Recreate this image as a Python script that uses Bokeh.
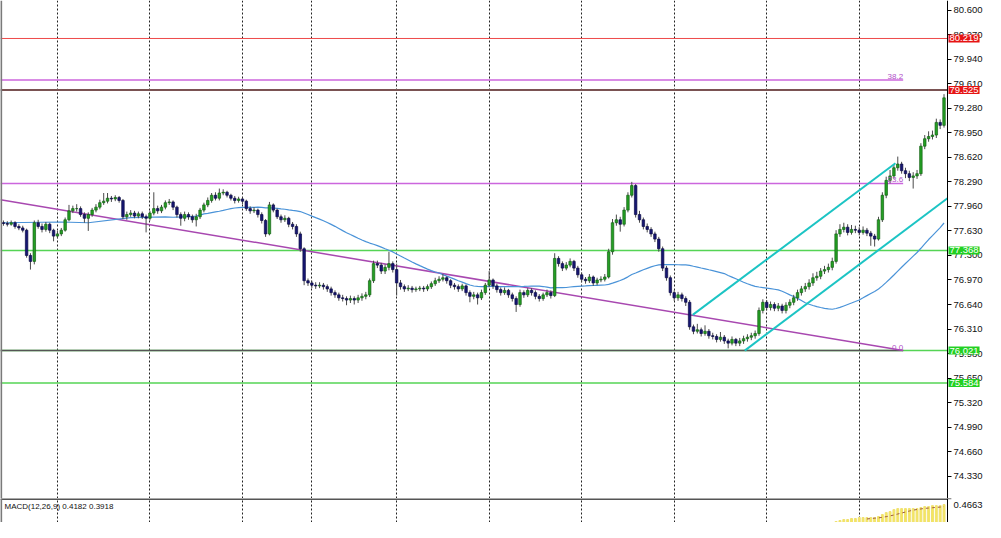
import pandas as pd
from bokeh.plotting import figure
from bokeh.layouts import column
from bokeh.models import Range1d, FixedTicker, NumeralTickFormatter, Span, Label, ColumnDataSource
from bokeh.embed import file_html
from bokeh.resources import INLINE

FONT = "Liberation Sans"

# ---------------- data (H1 candles, price) ----------------
first_open = 77.74
closes = [
    77.73, 77.72, 77.74, 77.69, 77.67, 77.64, 77.30, 77.22, 77.74, 77.69,
    77.65, 77.72, 77.64, 77.56, 77.59, 77.64, 77.78, 77.90, 77.93, 77.93,
    77.85, 77.80, 77.85, 77.91, 77.95, 78.01, 78.03, 78.07, 78.06, 78.08,
    78.04, 77.82, 77.85, 77.87, 77.83, 77.86, 77.82, 77.80, 77.87, 77.93,
    77.90, 77.95, 78.01, 78.02, 77.95, 77.85, 77.80, 77.85, 77.82, 77.78,
    77.82, 77.91, 77.98, 78.04, 78.11, 78.07, 78.14, 78.15, 78.11, 78.07,
    78.04, 78.06, 78.03, 77.93, 77.90, 77.91, 77.85, 77.77, 77.59, 77.98,
    77.91, 77.82, 77.78, 77.80, 77.72, 77.69, 77.59, 77.39, 76.96, 76.93,
    76.90, 76.89, 76.90, 76.88, 76.85, 76.80, 76.77, 76.73, 76.72, 76.70,
    76.72, 76.70, 76.73, 76.75, 76.77, 76.96, 77.19, 77.17, 77.09, 77.14,
    77.19, 77.11, 76.93, 76.88, 76.85, 76.86, 76.84, 76.85, 76.86, 76.85,
    76.88, 76.92, 76.96, 76.98, 77.00, 76.96, 76.90, 76.88, 76.85, 76.89,
    76.80, 76.75, 76.77, 76.73, 76.80, 76.90, 76.97, 76.89, 76.84, 76.80,
    76.83, 76.77, 76.72, 76.64, 76.80, 76.77, 76.83, 76.80, 76.75, 76.72,
    76.77, 76.80, 76.76, 77.26, 77.19, 77.13, 77.17, 77.22, 77.13, 77.04,
    76.98, 76.96, 77.01, 76.93, 76.97, 76.98, 77.01, 77.35, 77.74, 77.78,
    77.72, 77.91, 78.11, 78.24, 77.85, 77.78, 77.69, 77.65, 77.59, 77.52,
    77.39, 77.13, 77.00, 76.80, 76.73, 76.77, 76.72, 76.67, 76.34, 76.28,
    76.30, 76.25, 76.28, 76.22, 76.21, 76.17, 76.20, 76.15, 76.12, 76.17,
    76.12, 76.15, 76.18, 76.20, 76.22, 76.25, 76.56, 76.67, 76.60, 76.64,
    76.59, 76.62, 76.56, 76.63, 76.67, 76.73, 76.80, 76.85, 76.88, 76.93,
    77.00, 77.02, 77.09, 77.11, 77.14, 77.22, 77.59, 77.65, 77.68, 77.61,
    77.65, 77.64, 77.61, 77.64, 77.60, 77.56, 77.52, 77.78, 78.11, 78.31,
    78.37, 78.48, 78.53, 78.44, 78.40, 78.35, 78.37, 78.40, 78.77, 78.87,
    78.90, 78.92, 79.09, 79.05, 79.42,
]
highs = [
    77.77, 77.76, 77.77, 77.76, 77.72, 77.70, 77.66, 77.33, 77.77, 77.78,
    77.73, 77.75, 77.74, 77.66, 77.63, 77.67, 77.81, 77.98, 77.97, 77.99,
    77.96, 77.88, 77.88, 77.94, 77.99, 78.05, 78.14, 78.14, 78.10, 78.11,
    78.10, 78.06, 77.89, 77.91, 77.90, 77.89, 77.89, 77.85, 77.90, 78.15,
    77.97, 77.98, 78.04, 78.06, 78.04, 77.97, 77.88, 77.89, 77.88, 77.85,
    77.86, 77.94, 78.01, 78.08, 78.14, 78.15, 78.20, 78.19, 78.17, 78.13,
    78.10, 78.09, 78.08, 78.05, 77.96, 77.95, 77.93, 77.88, 77.79, 78.02,
    78.00, 77.93, 77.85, 77.84, 77.82, 77.75, 77.72, 77.62, 77.41, 76.99,
    76.96, 76.94, 76.94, 76.93, 76.91, 76.88, 76.83, 76.80, 76.77, 76.75,
    76.76, 76.75, 76.77, 76.79, 76.81, 76.99, 77.23, 77.23, 77.20, 77.18,
    77.35, 77.22, 77.19, 76.97, 76.91, 76.90, 76.89, 76.88, 76.89, 76.89,
    76.91, 76.95, 77.00, 77.02, 77.05, 77.02, 76.98, 76.93, 76.91, 76.92,
    76.91, 76.83, 76.81, 76.80, 76.84, 76.93, 77.09, 76.99, 76.92, 76.87,
    76.87, 76.85, 76.80, 76.75, 76.84, 76.83, 76.86, 76.86, 76.83, 76.78,
    76.80, 76.84, 76.83, 77.33, 77.29, 77.22, 77.21, 77.26, 77.24, 77.16,
    77.07, 77.01, 77.05, 77.03, 77.00, 77.02, 77.05, 77.39, 77.79, 77.85,
    77.82, 77.95, 78.15, 78.29, 78.26, 77.90, 77.81, 77.73, 77.68, 77.62,
    77.55, 77.42, 77.16, 77.03, 76.83, 76.81, 76.80, 76.75, 76.70, 76.37,
    76.38, 76.33, 76.36, 76.31, 76.26, 76.24, 76.27, 76.23, 76.18, 76.21,
    76.19, 76.19, 76.22, 76.24, 76.26, 76.29, 76.60, 76.71, 76.70, 76.68,
    76.67, 76.66, 76.65, 76.67, 76.71, 76.77, 76.84, 76.89, 76.93, 76.98,
    77.06, 77.08, 77.13, 77.16, 77.19, 77.27, 77.64, 77.72, 77.74, 77.72,
    77.71, 77.70, 77.68, 77.69, 77.67, 77.63, 77.59, 77.82, 78.15, 78.36,
    78.45, 78.53, 78.63, 78.56, 78.48, 78.44, 78.42, 78.45, 78.81, 78.92,
    78.97, 78.98, 79.14, 79.13, 79.47,
]
lows = [
    77.70, 77.69, 77.70, 77.66, 77.64, 77.61, 77.27, 77.11, 77.18, 77.66,
    77.61, 77.62, 77.60, 77.49, 77.53, 77.56, 77.62, 77.76, 77.87, 77.89,
    77.82, 77.74, 77.63, 77.82, 77.88, 77.92, 77.98, 78.00, 78.02, 78.03,
    78.01, 77.79, 77.78, 77.82, 77.80, 77.80, 77.79, 77.61, 77.77, 77.84,
    77.86, 77.87, 77.92, 77.98, 77.91, 77.81, 77.70, 77.76, 77.78, 77.74,
    77.69, 77.79, 77.88, 77.95, 78.01, 78.04, 78.04, 78.11, 78.08, 78.04,
    78.00, 78.01, 77.99, 77.90, 77.86, 77.87, 77.81, 77.73, 77.55, 77.57,
    77.88, 77.79, 77.74, 77.75, 77.68, 77.65, 77.55, 77.35, 76.90, 76.89,
    76.86, 76.85, 76.86, 76.84, 76.81, 76.76, 76.73, 76.69, 76.68, 76.63,
    76.66, 76.64, 76.66, 76.69, 76.71, 76.74, 76.93, 77.13, 77.05, 77.05,
    77.10, 77.07, 76.76, 76.84, 76.81, 76.82, 76.80, 76.81, 76.82, 76.81,
    76.82, 76.85, 76.89, 76.93, 76.95, 76.92, 76.86, 76.84, 76.81, 76.82,
    76.76, 76.67, 76.71, 76.64, 76.70, 76.77, 76.87, 76.85, 76.80, 76.76,
    76.77, 76.73, 76.68, 76.54, 76.61, 76.73, 76.74, 76.76, 76.71, 76.68,
    76.69, 76.74, 76.72, 76.74, 77.15, 77.09, 77.10, 77.14, 77.09, 77.00,
    76.94, 76.92, 76.93, 76.89, 76.90, 76.94, 76.95, 76.99, 77.31, 77.70,
    77.62, 77.69, 77.88, 78.08, 77.81, 77.74, 77.65, 77.61, 77.55, 77.48,
    77.35, 77.09, 76.96, 76.76, 76.69, 76.69, 76.68, 76.62, 76.30, 76.24,
    76.25, 76.21, 76.22, 76.18, 76.17, 76.13, 76.14, 76.11, 76.05, 76.09,
    76.08, 76.08, 76.11, 76.14, 76.16, 76.18, 76.22, 76.52, 76.56, 76.56,
    76.55, 76.55, 76.52, 76.52, 76.59, 76.63, 76.69, 76.76, 76.81, 76.84,
    76.89, 76.96, 76.98, 77.05, 77.07, 77.10, 77.19, 77.55, 77.61, 77.57,
    77.58, 77.60, 77.57, 77.58, 77.56, 77.43, 77.42, 77.50, 77.75, 78.07,
    78.27, 78.33, 78.44, 78.40, 78.34, 78.30, 78.20, 78.33, 78.37, 78.73,
    78.83, 78.86, 78.88, 79.00, 79.02,
]

# moving average: readings before a full window, then SMA(45) of closes
ma_period = 45
ma_head_bars = [0, 15, 22, 33, 42]
ma_head_vals = [77.74, 77.75, 77.74, 77.81, 77.82]

# vertical grid (time separators), bar indices
grid_bars = [14, 38, 62, 80, 102, 126, 150, 174, 198, 222]

# right price scale
price_ticks = [74.330, 74.660, 74.990, 75.320, 75.650, 75.980, 76.310, 76.640, 76.970,
               77.300, 77.630, 77.960, 78.290, 78.620, 78.950, 79.280, 79.610, 79.940,
               80.270, 80.600]

# horizontal levels
red_levels = [80.219, 79.525]
green_levels = [77.368, 76.021, 75.584]

# Fibonacci retracement
fib_low, fib_high = 76.02, 85.55
fib_ratios = [0.0, 23.6, 38.2]
fib_end_bar = 233.4
fib_trend_x = [-0.77, 233.4]
fib_trend_y = [78.05, 76.02]

# channel lines (bar, price)
chan_up_x, chan_up_y = [178.8, 231.4], [76.50, 78.54]
chan_lo_x, chan_lo_y = [192.3, 244.9], [76.02, 78.07]

# MACD(12,26,9) visible part
macd_bars = list(range(216, 245))
macd_vals = [0.282, 0.290, 0.298, 0.298, 0.306, 0.306, 0.314, 0.314, 0.314, 0.314, 0.314,
             0.322, 0.338, 0.354, 0.362, 0.378, 0.386, 0.386, 0.386, 0.386, 0.386, 0.386,
             0.394, 0.402, 0.402, 0.410, 0.410, 0.410, 0.4182]
macd_label_vals = (0.4182, 0.3918)
macd_top = 0.4663

# ---------------- build ----------------
n = len(closes)
bars = list(range(n))
opens = [first_open] + closes[:-1]
BULL, BEAR = "#23a023", "#161673"
BULL_L, BEAR_L = "#156015", "#0b0b45"
isup = [c >= o for o, c in zip(opens, closes)]
src = ColumnDataSource(dict(
    x=bars, h=highs, l=lows,
    top=[max(o, c) for o, c in zip(opens, closes)],
    bot=[min(o, c) for o, c in zip(opens, closes)],
    fill=[BULL if u else BEAR for u in isup],
    line=[BULL_L if u else BEAR_L for u in isup],
))

sma = pd.Series(closes).rolling(ma_period).mean().tolist()
ma_x = ma_head_bars + bars[ma_period - 1:]
ma_y = ma_head_vals + sma[ma_period - 1:]

W = 985
X0 = -0.77
AXIS_X = 244.9                 # bar position of the price scale line
XR = Range1d(X0, 254.76)       # frame also holds the price-scale strip
TICK_LEN = 1.0                 # tick length in bar units (~4px)
SCALE_FS = "9.5px"


def scale_label(fig, y, text, bg=None, color="white", baseline="middle", x_offset=1, y_offset=0):
    kw = dict(x=AXIS_X, y=y, text=text, x_offset=x_offset, y_offset=y_offset, text_align="left",
              text_baseline=baseline, text_font=FONT, text_font_size=SCALE_FS,
              text_color=color)
    if bg is not None:
        kw["background_fill_color"] = bg
        kw["padding"] = 1
    fig.add_layout(Label(**kw))


p = figure(width=W, height=498, x_range=XR, y_range=Range1d(74.03, 80.73),
           y_axis_location="right", x_axis_location=None,
           output_backend="svg", toolbar_location=None,
           min_border_left=0, min_border_top=0, min_border_bottom=0, min_border_right=0,
           outline_line_color=None, background_fill_color="white")

p.xgrid.ticker = FixedTicker(ticks=grid_bars)
p.xgrid.grid_line_color = "#222222"
p.xgrid.grid_line_dash = "2 2"
p.ygrid.visible = False

ax = p.yaxis[0]
ax.fixed_location = AXIS_X
ax.ticker = FixedTicker(ticks=price_ticks)
ax.formatter = NumeralTickFormatter(format="0.000")
ax.major_label_text_font = FONT
ax.major_label_text_font_size = SCALE_FS
ax.major_label_text_color = "#111111"
ax.major_tick_out = 4
ax.major_tick_in = 0
ax.minor_tick_out = 0
ax.minor_tick_in = 0
ax.major_label_standoff = 2
ax.axis_line_color = "black"
ax.major_tick_line_color = "black"

# left border
p.add_layout(Span(location=X0 + 0.17, dimension="height", line_color="#7a7a7a", line_width=2))

# horizontal levels (chart area only)
p.segment(x0=[X0], y0=[red_levels[0]], x1=[AXIS_X], y1=[red_levels[0]], line_color="#ee4a4a", line_width=1)
p.segment(x0=[X0], y0=[red_levels[1]], x1=[AXIS_X], y1=[red_levels[1]], line_color="#7a5252", line_width=2)
p.segment(x0=[X0] * len(green_levels), y0=green_levels, x1=[AXIS_X] * len(green_levels),
          y1=green_levels, line_color="#55d455", line_width=1.5)

# fibonacci levels
fib_vals = [fib_low + r / 100.0 * (fib_high - fib_low) for r in fib_ratios]
for r, v in zip(fib_ratios, fib_vals):
    col = "#555555" if r == 0.0 else "#cc66dd"
    p.line([X0, fib_end_bar], [v, v], line_color=col, line_width=1.5)
    p.add_layout(Label(x=fib_end_bar, y=v, text=f"{r:.1f}", text_align="right",
                       text_baseline="bottom", text_font=FONT, text_font_size="8px",
                       text_color="#b050c8", y_offset=1))
p.line(fib_trend_x, fib_trend_y, line_color="#a848b0", line_width=1.5)

# moving average
p.line(ma_x, ma_y, line_color="#4a93d8", line_width=1.2)

# candles
p.segment(x0="x", y0="h", x1="x", y1="l", source=src, line_color="#4a4a4a", line_width=1)
p.vbar(x="x", top="top", bottom="bot", width=0.65, source=src,
       fill_color="fill", line_color="line", line_width=0.7)

# channel
p.line(chan_up_x, chan_up_y, line_color="#1cc4c4", line_width=2)
p.line(chan_lo_x, chan_lo_y, line_color="#1cc4c4", line_width=2)

# price labels on the scale
for lv in red_levels:
    scale_label(p, lv, f"{lv:.3f}", bg="#e61414")
for lv in green_levels:
    scale_label(p, lv, f"{lv:.3f}", bg="#22d022")

# ---------------- MACD panel ----------------
q = figure(width=W, height=24, x_range=XR, y_range=Range1d(0.274, 0.4675),
           y_axis_location="right", x_axis_location=None,
           output_backend="svg", toolbar_location=None,
           min_border_left=0, min_border_top=0, min_border_bottom=0, min_border_right=0,
           outline_line_color=None, background_fill_color="white")
q.xgrid.ticker = FixedTicker(ticks=grid_bars)
q.xgrid.grid_line_color = "#222222"
q.xgrid.grid_line_dash = "2 2"
q.ygrid.visible = False
qa = q.yaxis[0]
qa.fixed_location = AXIS_X
qa.ticker = FixedTicker(ticks=[])
qa.major_tick_out = 0
qa.major_tick_in = 0
qa.minor_tick_out = 0
qa.minor_tick_in = 0
qa.axis_line_color = "black"

q.add_layout(Span(location=X0 + 0.17, dimension="height", line_color="#7a7a7a", line_width=2))
q.segment(x0=[X0], y0=[0.4675], x1=[AXIS_X], y1=[0.4675], line_color="#555555", line_width=3)

q.vbar(x=macd_bars, top=macd_vals, bottom=0, width=0.5, fill_color="#f6e85c", line_color="#efe070")
sig = pd.Series(macd_vals).rolling(9).mean().tolist()
q.line(macd_bars[8:], sig[8:], line_color="#a05a40", line_width=1, line_dash="3 3")

q.add_layout(Label(x=X0, y=0.4675, x_offset=4, y_offset=-3,
                   text=f"MACD(12,26,9) {macd_label_vals[0]:.4f} {macd_label_vals[1]:.4f}",
                   text_align="left", text_baseline="top", text_font=FONT, text_font_size="8px",
                   text_color="#111111"))
q.segment(x0=[AXIS_X], y0=[macd_top], x1=[AXIS_X + TICK_LEN], y1=[macd_top], line_color="black")
scale_label(q, macd_top, f"{macd_top:.4f}", color="#111111", baseline="top", x_offset=6, y_offset=-3)

layout = column(p, q, spacing=0)
open("out.html", "w").write(file_html(layout, INLINE))
